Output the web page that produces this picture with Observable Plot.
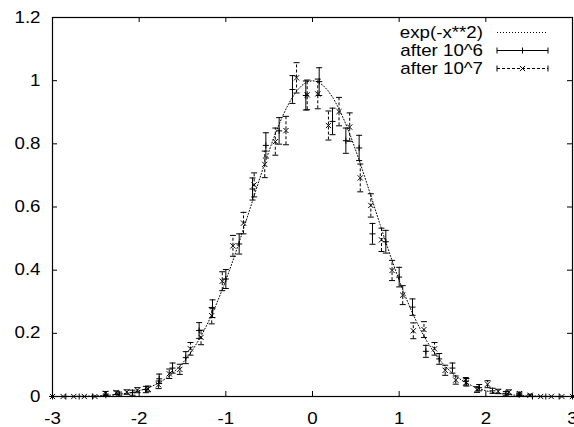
<!DOCTYPE html>
<html><head><meta charset="utf-8">
<script src="https://cdn.jsdelivr.net/npm/d3@7"></script>
<script src="https://cdn.jsdelivr.net/npm/@observablehq/plot@0.6"></script>
<style>
html,body{margin:0;padding:0;background:#fff;}
#chart svg{display:block;}
</style>
</head><body><div id="chart"></div>
<script>
const xTicks = [-3,-2,-1,0,1,2,3];
const xTickLabels = ["-3","-2","-1","0","1","2","3"];
const yTicks = [0,0.2,0.4,0.6,0.8,1,1.2];
const yTickLabels = ["0","0.2","0.4","0.6","0.8","1","1.2"];
const seriesNames = ["exp(-x**2)","after 10^6","after 10^7"];

// after 10^6 (40 points)
const x6 = [-3.000,-2.846,-2.692,-2.538,-2.385,-2.231,-2.077,-1.923,-1.769,-1.615,
  -1.462,-1.308,-1.154,-1.000,-0.846,-0.692,-0.538,-0.385,-0.231,-0.077,
  0.077,0.231,0.385,0.538,0.692,0.846,1.000,1.154,1.308,1.462,
  1.615,1.769,1.923,2.077,2.231,2.385,2.538,2.692,2.846,3.000];
const y6 = [0,0,0,0,0.004,0.008,0.012,0.022,0.056,0.090,
  0.123,0.209,0.278,0.372,0.483,0.657,0.795,0.841,0.972,0.953,
  0.997,0.871,0.810,0.787,0.515,0.490,0.378,0.283,0.143,0.119,
  0.090,0.048,0.028,0.018,0.010,0.005,0,0,0,0];
const e6 = [0,0,0,0,0.004,0.006,0.008,0.010,0.015,0.016,
  0.019,0.025,0.028,0.030,0.032,0.035,0.040,0.042,0.044,0.046,
  0.044,0.042,0.040,0.040,0.033,0.036,0.031,0.026,0.019,0.017,
  0.016,0.012,0.010,0.008,0.006,0.004,0,0,0,0];

// after 10^7 (50 points)
const x7 = [-3.000,-2.878,-2.755,-2.633,-2.510,-2.388,-2.265,-2.143,-2.020,-1.898,
  -1.776,-1.653,-1.531,-1.408,-1.286,-1.163,-1.041,-0.918,-0.796,-0.673,
  -0.551,-0.429,-0.306,-0.184,-0.061,0.061,0.184,0.306,0.429,0.551,
  0.673,0.796,0.918,1.041,1.163,1.286,1.408,1.531,1.653,1.776,
  1.898,2.020,2.143,2.265,2.388,2.510,2.633,2.755,2.878,3.000];
const y7 = [0,0,0,0,0,0.010,0.012,0.014,0.020,0.024,
  0.037,0.072,0.086,0.151,0.187,0.256,0.365,0.477,0.549,0.670,
  0.735,0.807,0.842,1.009,0.955,0.958,0.858,0.902,0.853,0.692,
  0.605,0.496,0.399,0.321,0.208,0.212,0.151,0.083,0.052,0.045,
  0.022,0.039,0.016,0.014,0.009,0.004,0,0,0,0];
const e7 = [0,0,0,0,0,0.006,0.006,0.007,0.008,0.009,
  0.012,0.015,0.016,0.020,0.023,0.026,0.030,0.033,0.034,0.038,
  0.042,0.043,0.045,0.048,0.047,0.047,0.046,0.045,0.045,0.044,
  0.037,0.037,0.032,0.030,0.025,0.025,0.020,0.016,0.013,0.012,
  0.009,0.011,0.007,0.007,0.005,0.003,0,0,0,0];

// layout
const W = 574, H = 427, mL = 52, mR = 2, mT = 17, mB = 31, tickLen = 5;
const innerW = W - mL - mR, innerH = H - mT - mB;
const FONT = "'Liberation Sans', Arial, Helvetica, sans-serif";
const STRETCH = 1.17;

const rows6 = x6.map((x, i) => ({x, y: y6[i], lo: y6[i] - e6[i], hi: y6[i] + e6[i]}));
const rows7 = x7.map((x, i) => ({x, y: y7[i], lo: y7[i] - e7[i], hi: y7[i] + e7[i]}));
const curve = d3.range(0, 101).map(i => { const x = -3 + 6 * i / 100; return {x, y: Math.exp(-x * x)}; });

const capSym = {draw(c) { c.moveTo(-3, 0); c.lineTo(3, 0); }};
const plusSym = {draw(c) { c.moveTo(-3, 0); c.lineTo(3, 0); c.moveTo(0, -3); c.lineTo(0, 3); }};
const timesSym = {draw(c) { c.moveTo(-2.6, -2.6); c.lineTo(2.6, 2.6); c.moveTo(-2.6, 2.6); c.lineTo(2.6, -2.6); }};

const chart = Plot.plot({
  width: W, height: H,
  marginLeft: mL, marginRight: mR, marginTop: mT, marginBottom: mB,
  style: {fontFamily: FONT, fontSize: "16px", color: "#000", background: "#fff", overflow: "visible"},
  x: {domain: [-3, 3], label: null},
  y: {domain: [0, 1.2], label: null},
  marks: [
    Plot.line(curve, {x: "x", y: "y", stroke: "#000", strokeWidth: 1, strokeDasharray: "1,2"}),
    // after 10^6
    Plot.ruleX(rows6, {x: "x", y1: "lo", y2: "hi", stroke: "#000", strokeWidth: 1}),
    Plot.dot(rows6, {x: "x", y: "lo", symbol: capSym, fill: "none", stroke: "#000", strokeWidth: 1}),
    Plot.dot(rows6, {x: "x", y: "hi", symbol: capSym, fill: "none", stroke: "#000", strokeWidth: 1}),
    Plot.dot(rows6, {x: "x", y: "y", symbol: plusSym, fill: "none", stroke: "#000", strokeWidth: 1}),
    // after 10^7
    Plot.ruleX(rows7, {x: "x", y1: "lo", y2: "hi", stroke: "#000", strokeWidth: 1, strokeDasharray: "3,2"}),
    Plot.dot(rows7, {x: "x", y: "lo", symbol: capSym, fill: "none", stroke: "#000", strokeWidth: 1}),
    Plot.dot(rows7, {x: "x", y: "hi", symbol: capSym, fill: "none", stroke: "#000", strokeWidth: 1}),
    Plot.dot(rows7, {x: "x", y: "y", symbol: timesSym, fill: "none", stroke: "#000", strokeWidth: 1}),
    // inward ticks on all four sides
    Plot.ruleX(xTicks, {insetTop: innerH - tickLen, stroke: "#000"}),
    Plot.ruleX(xTicks, {insetBottom: innerH - tickLen, stroke: "#000"}),
    Plot.ruleY(yTicks, {insetRight: innerW - tickLen, stroke: "#000"}),
    Plot.ruleY(yTicks, {insetLeft: innerW - tickLen, stroke: "#000"}),
    Plot.axisX({ticks: xTicks, tickFormat: d => xTickLabels[xTicks.indexOf(d)], tickSize: 0, tickPadding: 16, label: null}),
    Plot.axisY({ticks: yTicks, tickFormat: d => yTickLabels[yTicks.indexOf(d)], tickSize: 0, tickPadding: 12, label: null}),
    Plot.frame({stroke: "#000", strokeWidth: 1.2})
  ]
});

// legend (top right, inside frame)
const svg = d3.select(chart);
const lg = svg.append("g").attr("font-family", FONT).attr("font-size", 16);
const rowsY = [32.5, 50.5, 68.5];
const sx1 = 497, sx2 = 548, sxm = (sx1 + sx2) / 2, textX = 483;
seriesNames.forEach((name, i) => {
  const cy = rowsY[i];
  lg.append("text").attr("x", textX).attr("y", cy).attr("dy", "0.36em")
    .attr("text-anchor", "end").attr("fill", "#000").text(name);
  const ln = lg.append("line").attr("x1", sx1).attr("x2", sx2).attr("y1", cy).attr("y2", cy)
    .attr("stroke", "#000").attr("stroke-width", 1);
  if (i === 0) ln.attr("stroke-dasharray", "1,2");
  if (i === 2) ln.attr("stroke-dasharray", "3,2");
  if (i > 0) {
    [sx1, sx2].forEach(px => lg.append("line").attr("x1", px).attr("x2", px)
      .attr("y1", cy - 3).attr("y2", cy + 3).attr("stroke", "#000"));
    const p = i === 1
      ? `M${sxm - 3},${cy}h6M${sxm},${cy - 3}v6`
      : `M${sxm - 2.6},${cy - 2.6}l5.2,5.2M${sxm - 2.6},${cy + 2.6}l5.2,-5.2`;
    lg.append("path").attr("d", p).attr("stroke", "#000").attr("fill", "none");
  }
});

// stretch all text horizontally around its anchor (reference font is wide)
chart.querySelectorAll("text").forEach(t => {
  const x = parseFloat(t.getAttribute("x") || "0") || 0;
  const tr = t.getAttribute("transform") || "";
  t.setAttribute("transform", `${tr} translate(${x},0) scale(${STRETCH},1) translate(${-x},0)`);
});

document.getElementById("chart").appendChild(chart);
</script>
</body></html>
